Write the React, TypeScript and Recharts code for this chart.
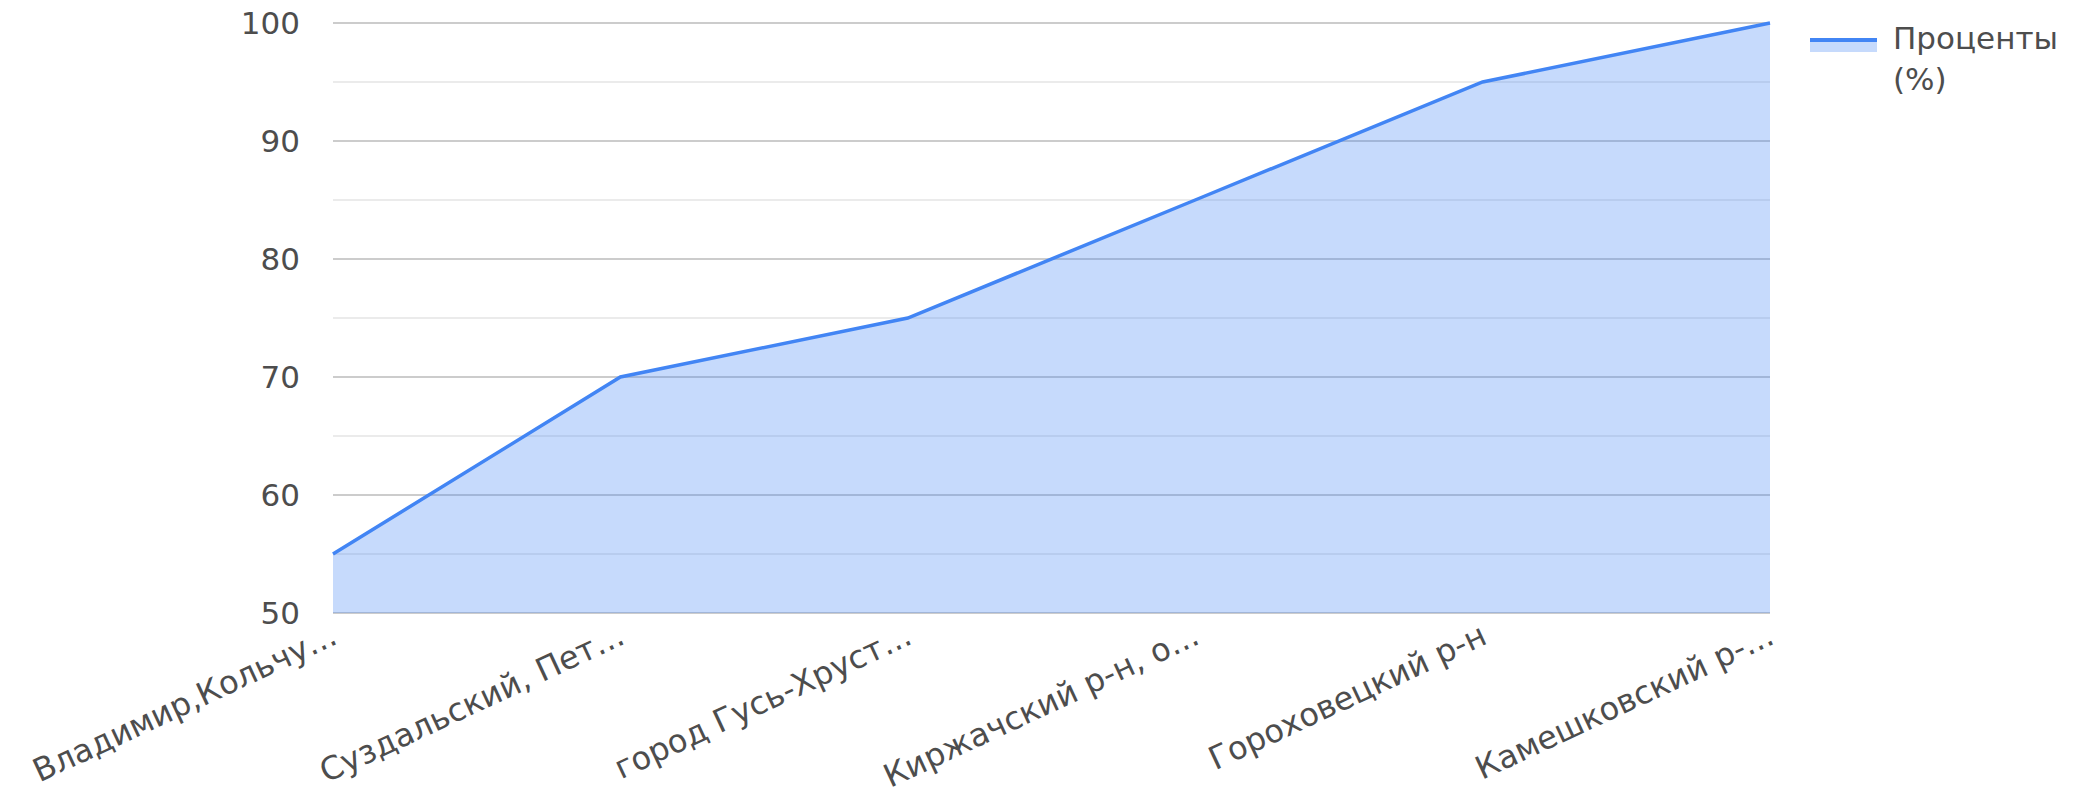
import React from 'react';
import { AreaChart, Area, XAxis, YAxis, CartesianGrid, Legend } from 'recharts';

const categories = [
  'Владимир,Кольчу...',
  'Суздальский, Пет...',
  'город Гусь-Хруст...',
  'Киржачский р-н, о...',
  'Гороховецкий р-н',
  'Камешковский р-...',
];
const percentValues = [55, 70, 75, 85, 95, 100];
const majorTicks = [50, 60, 70, 80, 90, 100];
const minorTicks = [55, 65, 75, 85, 95];
const seriesName = 'Проценты (%)';

const data = categories.map((name, i) => ({ name, value: percentValues[i] }));

const FONT = '"DejaVu Sans", sans-serif';
const BLUE = '#4285f4';
const TEXT = '#4d4d4d';

const XTick = (props: any) => {
  const { x, y, payload } = props;
  return (
    <g transform={`translate(${x + 6},${y + 30})`}>
      <text textAnchor="end" transform="rotate(-25)" fontSize={32} fill={TEXT} fontFamily={FONT}>
        {payload.value}
      </text>
    </g>
  );
};

const LegendContent = () => (
  <div style={{ display: 'flex', alignItems: 'flex-start', fontFamily: FONT }}>
    <svg width={67} height={30} style={{ marginTop: 18, flex: 'none' }}>
      <rect x={0} y={4} width={67} height={12} fill={BLUE} fillOpacity={0.3} />
      <line x1={0} y1={4} x2={67} y2={4} stroke={BLUE} strokeWidth={4} />
    </svg>
    <div style={{ marginLeft: 16, fontSize: 31, lineHeight: '41px', color: TEXT, width: 190 }}>
      {seriesName}
    </div>
  </div>
);

export default function App() {
  return (
    <div style={{ position: 'absolute', left: 0, top: 0, width: 2097, height: 811, background: '#fff' }}>
      <AreaChart width={2097} height={811} data={data} margin={{ top: 23, right: 40, left: 0, bottom: 0 }}>
        <CartesianGrid horizontal vertical={false} horizontalValues={minorTicks} stroke="#ebebeb" strokeWidth={2} />
        <CartesianGrid horizontal vertical={false} horizontalValues={majorTicks} stroke="#cccccc" strokeWidth={2} />
        <XAxis
          dataKey="name"
          interval={0}
          axisLine={false}
          tickLine={false}
          tickSize={0}
          tickMargin={0}
          height={198}
          tick={<XTick />}
        />
        <YAxis
          domain={[50, 100]}
          ticks={majorTicks}
          axisLine={false}
          tickLine={false}
          tickSize={0}
          tickMargin={33}
          width={333}
          tick={{ fontSize: 31, fill: TEXT, fontFamily: FONT }}
        />
        <Legend
          layout="horizontal"
          verticalAlign="middle"
          align="right"
          content={<LegendContent />}
          wrapperStyle={{ position: 'absolute', left: 1810, top: 18, width: 287 }}
        />
        <Area
          type="linear"
          dataKey="value"
          name={seriesName}
          stroke={BLUE}
          strokeWidth={3.5}
          fill={BLUE}
          fillOpacity={0.3}
          dot={false}
          activeDot={false}
          isAnimationActive={false}
        />
      </AreaChart>
    </div>
  );
}
